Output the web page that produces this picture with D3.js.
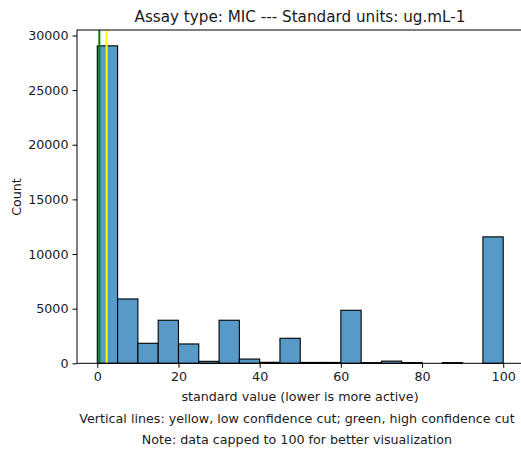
<!DOCTYPE html>
<html>
  <head>
    <meta charset="utf-8" />
    <title>Assay histogram</title>
    <script src="https://d3js.org/d3.v7.min.js"></script>
    <style>
        body { margin:0; background:#fff; }
        text { font-family: "DejaVu Sans", sans-serif; fill:#1a1a1a; }
    </style>
  </head>
  <body>
    <svg id="viz"></svg>

    <script>
    // bins of width 5 from 0 to 100
    var binStarts = [0,5,10,15,20,25,30,35,40,45,50,55,60,65,70,75,80,85,90,95];
    var binWidth = 5;
    var counts = [29050,5890,1830,3940,1770,180,3940,390,90,2290,80,80,4850,60,200,70,0,60,0,11570];

    var cutHigh = 0.5;   // green
    var cutLow = 2.3;    // yellow

    var xTicks = [0,20,40,60,80,100];
    var yTicks = [0,5000,10000,15000,20000,25000,30000];

    var width = 521, height = 453;
    var margin = {left:77, top:30, right:-2.5, bottom:90};
    var fs = "12.7px";

    var svg = d3.select("#viz")
      .attr("width", width)
      .attr("height", height);

    var x = d3.scaleLinear()
      .domain([-5, 105])
      .range([margin.left, width - margin.right]);

    var y = d3.scaleLinear()
      .domain([0, 30500])
      .range([363.3, margin.top]);

    var g = svg.append("g");

    // bars
    g.selectAll("rect.bar")
      .data(counts)
      .enter().append("rect")
      .attr("class", "bar")
      .attr("x", function(d, i){ return x(binStarts[i]); })
      .attr("width", function(d, i){ return x(binStarts[i] + binWidth) - x(binStarts[i]); })
      .attr("y", function(d){ return y(d); })
      .attr("height", function(d){ return y(0) - y(d); })
      .attr("fill", "#5799c7")
      .attr("stroke", "#000")
      .attr("stroke-width", 1.1);

    // cut lines
    g.append("line")
      .attr("x1", x(cutHigh)).attr("x2", x(cutHigh))
      .attr("y1", y(30500)).attr("y2", y(0))
      .attr("stroke", "green").attr("stroke-width", 2);
    g.append("line")
      .attr("x1", x(cutLow)).attr("x2", x(cutLow))
      .attr("y1", y(30500)).attr("y2", y(0))
      .attr("stroke", "yellow").attr("stroke-width", 2);

    // spines
    svg.append("rect")
      .attr("x", margin.left).attr("y", margin.top)
      .attr("width", x(105) - margin.left).attr("height", y(0) - margin.top)
      .attr("fill", "none").attr("stroke", "#000").attr("stroke-width", 1);

    // axes
    var xAxis = d3.axisBottom(x).tickValues(xTicks).tickSize(4.5).tickPadding(4)
      .tickFormat(d3.format("d"));
    svg.append("g")
      .attr("transform", "translate(0," + y(0) + ")")
      .call(xAxis)
      .call(function(a){ a.select(".domain").remove(); })
      .selectAll("text").style("font-size", fs).attr("font-family", "DejaVu Sans");

    var yAxis = d3.axisLeft(y).tickValues(yTicks).tickSize(4.5).tickPadding(4)
      .tickFormat(d3.format("d"));
    svg.append("g")
      .attr("transform", "translate(" + margin.left + ",0)")
      .call(yAxis)
      .call(function(a){ a.select(".domain").remove(); })
      .selectAll("text").style("font-size", fs).attr("font-family", "DejaVu Sans");

    svg.selectAll(".tick line").attr("stroke", "#000");

    // labels
    svg.append("text")
      .attr("x", 300).attr("y", 22)
      .attr("text-anchor", "middle")
      .style("font-size", "15.2px")
      .text("Assay type: MIC --- Standard units: ug.mL-1");

    svg.append("text")
      .attr("x", 300).attr("y", 401)
      .attr("text-anchor", "middle")
      .style("font-size", fs)
      .text("standard value (lower is more active)");

    svg.append("text")
      .attr("transform", "translate(21,197) rotate(-90)")
      .attr("text-anchor", "middle")
      .style("font-size", fs)
      .text("Count");

    svg.append("text")
      .attr("x", 297).attr("y", 423)
      .attr("text-anchor", "middle")
      .style("font-size", fs)
      .text("Vertical lines: yellow, low confidence cut; green, high confidence cut");

    svg.append("text")
      .attr("x", 297).attr("y", 444)
      .attr("text-anchor", "middle")
      .style("font-size", fs)
      .text("Note: data capped to 100 for better visualization");
    </script>
  </body>
</html>
